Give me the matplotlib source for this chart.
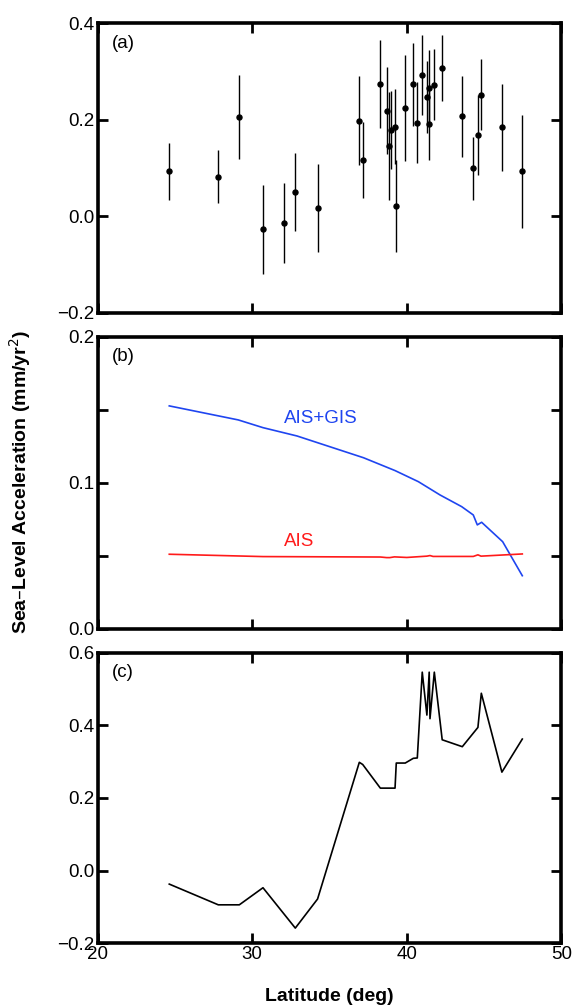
import matplotlib
matplotlib.use('Agg')
import numpy as np
import matplotlib.pyplot as plt

plt.rcParams['font.family'] = ['Liberation Sans', 'DejaVu Sans']

# (a) tide gauge accelerations with error bars
lat_a = [24.64, 27.81, 29.17, 30.70, 32.06, 32.79, 34.23, 36.93, 37.15, 38.29,
         38.74, 38.85, 38.96, 39.24, 39.32, 39.90, 40.42, 40.68, 41.00, 41.30,
         41.45, 41.45, 41.78, 42.29, 43.59, 44.30, 44.60, 44.82, 46.15, 47.47]
acc_a = [0.094, 0.082, 0.205, -0.027, -0.013, 0.051, 0.018, 0.198, 0.117, 0.274,
         0.219, 0.145, 0.179, 0.186, 0.022, 0.225, 0.274, 0.194, 0.292, 0.247,
         0.266, 0.192, 0.273, 0.307, 0.207, 0.100, 0.169, 0.252, 0.185, 0.093]
err_a = [0.059, 0.055, 0.087, 0.092, 0.083, 0.081, 0.091, 0.092, 0.079, 0.091,
         0.090, 0.112, 0.080, 0.077, 0.095, 0.110, 0.086, 0.084, 0.083, 0.074,
         0.078, 0.075, 0.074, 0.068, 0.083, 0.065, 0.083, 0.074, 0.090, 0.118]

# (b) modelled ice-sheet contributions
lat_gis = [24.64, 29.1, 30.7, 32.9, 37.2, 39.24, 40.75, 42.15, 43.55, 44.3,
           44.56, 44.84, 46.2, 47.47]
acc_gis = [0.1525, 0.1429, 0.1376, 0.1319, 0.1170, 0.1082, 0.1006, 0.0915,
           0.0835, 0.0778, 0.0710, 0.0728, 0.0595, 0.0362]
lat_ais = [24.64, 30.7, 38.3, 38.7, 38.9, 39.2, 40.0, 41.3, 41.5, 41.7,
           44.3, 44.6, 44.8, 47.47]
acc_ais = [0.0509, 0.0493, 0.0490, 0.0486, 0.0486, 0.0491, 0.0487, 0.0496,
           0.0500, 0.0494, 0.0494, 0.0505, 0.0496, 0.0511]

# (c) residual
lat_c = [24.64, 27.81, 29.17, 30.70, 32.79, 34.23, 36.93, 37.15, 38.29, 39.24,
         39.32, 39.90, 40.42, 40.68, 41.00, 41.30, 41.45, 41.50, 41.78, 42.29,
         43.59, 44.60, 44.82, 46.15, 47.47]
acc_c = [-0.037, -0.094, -0.094, -0.047, -0.158, -0.078, 0.298, 0.292, 0.227, 0.227,
         0.296, 0.296, 0.309, 0.310, 0.546, 0.428, 0.546, 0.418, 0.546, 0.360,
         0.341, 0.394, 0.488, 0.271, 0.362]

fig = plt.figure(figsize=(5.72, 10.07), dpi=100)
left, width = 0.1705, 0.811
axa = fig.add_axes([left, 0.6892, width, 0.2877])
axb = fig.add_axes([left, 0.3758, width, 0.2900])
axc = fig.add_axes([left, 0.0632, width, 0.2888])

axa.errorbar(lat_a, acc_a, yerr=err_a, fmt='o', color='black', ms=3.6,
             elinewidth=1.0, capsize=0)
axb.plot(lat_gis, acc_gis, color='#1f45f0', lw=1.2)
axb.plot(lat_ais, acc_ais, color='#ff1a1a', lw=1.2)
axb.text(34.45, 0.1436, 'AIS+GIS', color='#1f45f0', fontsize=13.5,
         ha='center', va='center')
axb.text(32.06, 0.0595, 'AIS', color='#ff1a1a', fontsize=13.5,
         ha='left', va='center')
axc.plot(lat_c, acc_c, color='black', lw=1.2)

axa.set_ylim(-0.2, 0.4)
axa.set_yticks([-0.2, 0.0, 0.2, 0.4])
axb.set_ylim(0.0, 0.2)
axb.set_yticks([0.0, 0.05, 0.1, 0.15, 0.2])
axb.set_yticklabels(['0.0', '', '0.1', '', '0.2'])
axc.set_ylim(-0.2, 0.6)
axc.set_yticks([-0.2, 0.0, 0.2, 0.4, 0.6])

for ax, lab in zip([axa, axb, axc], ['(a)', '(b)', '(c)']):
    ax.set_xlim(20, 50)
    ax.set_xticks([20, 30, 40, 50])
    ax.tick_params(direction='in', top=True, right=True, length=7, width=2,
                   labelsize=13.5, pad=2)
    for s in ax.spines.values():
        s.set_linewidth(2.6)
    ax.text(0.031, 0.93, lab, transform=ax.transAxes, fontsize=13.5,
            ha='left', va='center')
    if ax is not axc:
        ax.tick_params(labelbottom=False)

axc.set_xlabel('Latitude (deg)', fontsize=14, fontweight='bold', labelpad=18)
fig.text(0.035, 0.521, 'Sea\u2013Level Acceleration (mm/yr$^2$)', rotation=90,
         fontsize=14, fontweight='bold', ha='center', va='center')

plt.savefig('out.png', dpi=100)
